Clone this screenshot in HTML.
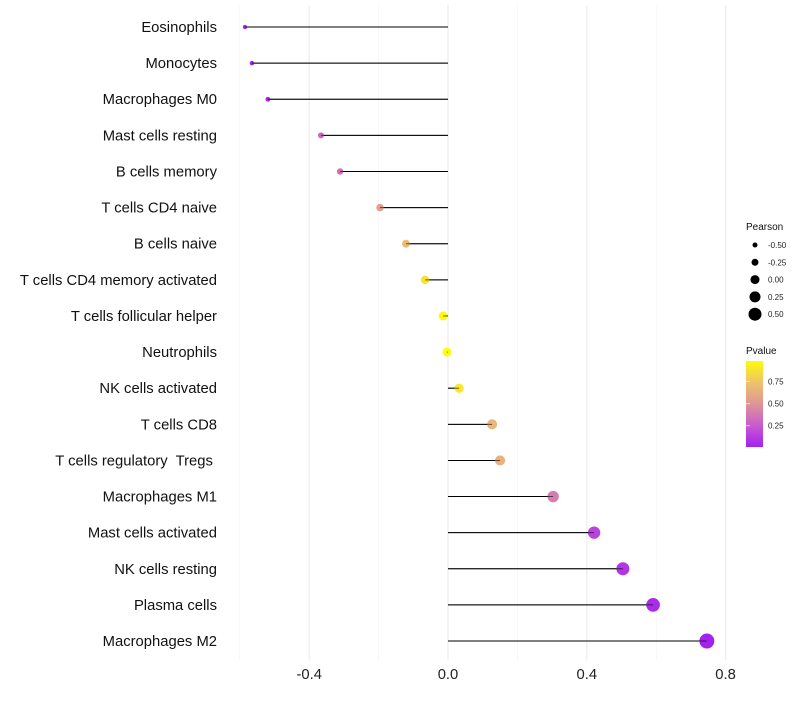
<!DOCTYPE html>
<html><head><meta charset="utf-8"><style>
body{margin:0;background:#fff;font-family:"Liberation Sans",sans-serif}
text{white-space:pre}
</style></head><body>
<svg id="chart" width="800" height="700" xmlns="http://www.w3.org/2000/svg">
<g id="grid"></g>
<g id="marks"></g>
<g id="ylabels"></g>
<g id="xlabels"></g>
<g id="legend"></g>
</svg>
<script>
const categories=["Eosinophils","Monocytes","Macrophages M0","Mast cells resting","B cells memory","T cells CD4 naive","B cells naive","T cells CD4 memory activated","T cells follicular helper","Neutrophils","NK cells activated","T cells CD8","T cells regulatory  Tregs ","Macrophages M1","Mast cells activated","NK cells resting","Plasma cells","Macrophages M2"];
const pearson=[-0.585,-0.565,-0.519,-0.366,-0.311,-0.196,-0.121,-0.066,-0.014,-0.003,0.032,0.127,0.15,0.303,0.421,0.504,0.591,0.746];
const pvalue=[0.01,0.02,0.03,0.3,0.35,0.55,0.7,0.88,0.97,0.99,0.9,0.68,0.65,0.4,0.15,0.1,0.05,0.01];
const xTicks=[-0.4,0.0,0.4,0.8];
const xMinor=[-0.6,-0.2,0.2,0.6];
const sizeLegend=[-0.5,-0.25,0,0.25,0.5];
const pLegend=[0.25,0.5,0.75];
const NS="http://www.w3.org/2000/svg";
const xs=v=>448+v*347;
const ys=i=>27+i*36.12;
const rs=v=>4.5+v*4;
function col(p){const st=[[0,[160,32,240]],[0.25,[200,90,208]],[0.5,[222,150,150]],[0.75,[240,196,106]],[1,[255,255,0]]];
for(let k=0;k<st.length-1;k++){if(p<=st[k+1][0]){const t=(p-st[k][0])/(st[k+1][0]-st[k][0]);const a=st[k][1],b=st[k+1][1];return `rgb(${a.map((c,j)=>Math.round(c+(b[j]-c)*t)).join(',')})`;}}return 'rgb(255,255,0)';}
function mk(parent,tag,attrs,txt){const e=document.createElementNS(NS,tag);for(const k in attrs)e.setAttribute(k,attrs[k]);if(txt!==undefined)e.textContent=txt;document.getElementById(parent).appendChild(e);return e;}
xMinor.forEach(v=>{const e=mk('grid','line',{x1:xs(v),x2:xs(v),y1:5,y2:660,stroke:'#f2f2f2','stroke-width':0.6});

});
xTicks.forEach(v=>{const e=mk('grid','line',{x1:xs(v),x2:xs(v),y1:5,y2:660,stroke:'#ebebeb','stroke-width':1.1});


const t=mk('xlabels','text',{x:xs(v),y:679,'font-size':14.8,'text-anchor':'middle',fill:'#222'},v.toFixed(1));

});
categories.forEach((c,i)=>{const y=ys(i);
const t=mk('ylabels','text',{x:217,y:y+5,'font-size':14.8,'text-anchor':'end',fill:'#111','xml:space':'preserve'},c);


const l=mk('marks','line',{x1:xs(0),x2:xs(pearson[i]),y1:y,y2:y,stroke:'#000','stroke-width':1});


const d=mk('marks','circle',{cx:xs(pearson[i]),cy:y,r:rs(pearson[i]),fill:col(pvalue[i])});


const l2=mk('marks','line',{x1:xs(0),x2:xs(pearson[i]),y1:y,y2:y,stroke:'#000','stroke-width':1,'stroke-opacity':0.6});

});
let t=mk('legend','text',{x:746,y:230,'font-size':10,fill:'#111'},'Pearson');


sizeLegend.forEach((v,k)=>{const y=245+k*17.3;
const c=mk('legend','circle',{cx:755,cy:y,r:rs(v),fill:'#000'});


const tt=mk('legend','text',{x:768,y:y+3,'font-size':8,fill:'#222'},v.toFixed(2));

});
t=mk('legend','text',{x:746,y:354,'font-size':10,fill:'#111'},'Pvalue');


const defs=mk('legend','defs',{});
const g=document.createElementNS(NS,'linearGradient');g.setAttribute('id','pg');g.setAttribute('x1','0');g.setAttribute('y1','1');g.setAttribute('x2','0');g.setAttribute('y2','0');defs.appendChild(g);
[0,0.25,0.5,0.75,1].forEach(o=>{const s=document.createElementNS(NS,'stop');s.setAttribute('offset',o);s.setAttribute('stop-color',col(0.01+o*0.97));g.appendChild(s);});
const bar=mk('legend','rect',{x:746,y:361,width:17,height:86,fill:'url(#pg)'});


pLegend.forEach(v=>{const y=447-(v-0.01)/0.97*86;
const tt=mk('legend','text',{x:768,y:y+3,'font-size':8,fill:'#222'},v.toFixed(2));


const tk=mk('legend','line',{x1:746,x2:750,y1:y,y2:y,stroke:'#fff','stroke-opacity':0.6});

});
</script>
</body></html>
